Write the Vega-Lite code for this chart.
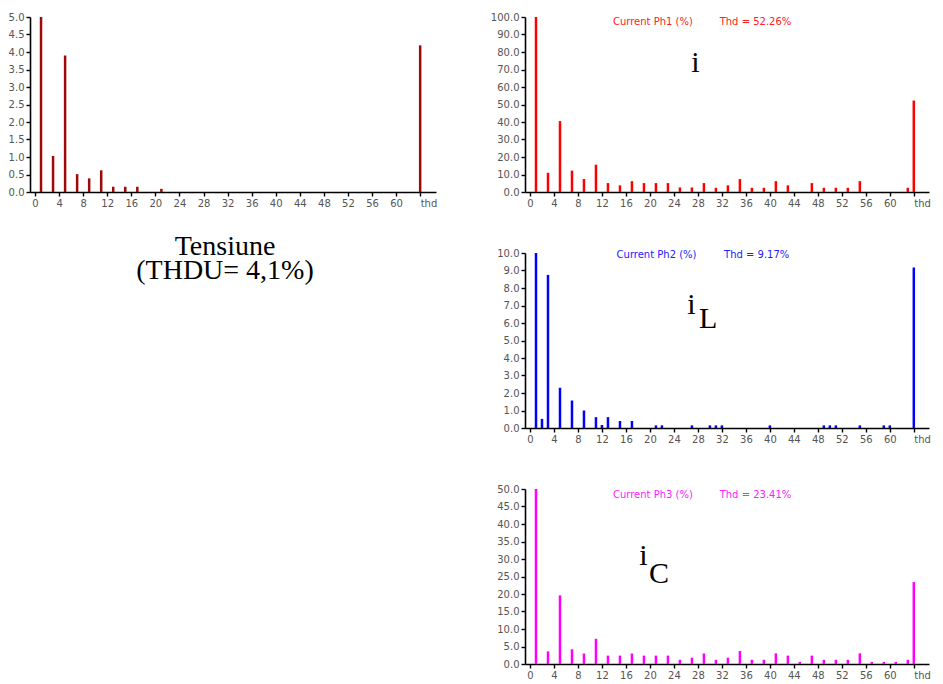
{
  "$schema": "https://vega.github.io/schema/vega-lite/v6.json",
  "background": "white",
  "padding": {"left": 8, "top": 12, "right": 2, "bottom": 2},
  "bounds": "flush",
  "columns": 2,
  "spacing": {"row": 61, "column": 89},
  "datasets": {
    "volt": [
      {"h": 1, "v": 100}, {"h": 3, "v": 1.03}, {"h": 5, "v": 3.9}, {"h": 7, "v": 0.51}, {"h": 9, "v": 0.39},
      {"h": 11, "v": 0.62}, {"h": 13, "v": 0.15}, {"h": 15, "v": 0.15}, {"h": 17, "v": 0.15}, {"h": 21, "v": 0.09},
      {"h": 64, "v": 4.19}
    ],
    "ph1": [
      {"h": 1, "v": 100}, {"h": 3, "v": 11}, {"h": 5, "v": 40.5}, {"h": 7, "v": 12.2}, {"h": 9, "v": 7.4},
      {"h": 11, "v": 15.6}, {"h": 13, "v": 5.1}, {"h": 15, "v": 3.8}, {"h": 17, "v": 6.2}, {"h": 19, "v": 5.1},
      {"h": 21, "v": 5.1}, {"h": 23, "v": 5.1}, {"h": 25, "v": 2.6}, {"h": 27, "v": 2.6}, {"h": 29, "v": 5.1},
      {"h": 31, "v": 2.4}, {"h": 33, "v": 3.8}, {"h": 35, "v": 7.4}, {"h": 37, "v": 2.4}, {"h": 39, "v": 2.4},
      {"h": 41, "v": 6.2}, {"h": 43, "v": 3.8}, {"h": 47, "v": 5.1}, {"h": 49, "v": 2.4}, {"h": 51, "v": 2.4},
      {"h": 53, "v": 2.4}, {"h": 55, "v": 6.2}, {"h": 63, "v": 2.4}, {"h": 64, "v": 52.26}
    ],
    "ph2": [
      {"h": 1, "v": 100}, {"h": 2, "v": 0.52}, {"h": 3, "v": 8.75}, {"h": 5, "v": 2.3}, {"h": 7, "v": 1.57},
      {"h": 9, "v": 1.0}, {"h": 11, "v": 0.62}, {"h": 12, "v": 0.17}, {"h": 13, "v": 0.62}, {"h": 15, "v": 0.4},
      {"h": 17, "v": 0.4}, {"h": 21, "v": 0.15}, {"h": 22, "v": 0.15}, {"h": 27, "v": 0.15}, {"h": 30, "v": 0.15},
      {"h": 31, "v": 0.15}, {"h": 32, "v": 0.15}, {"h": 40, "v": 0.15}, {"h": 49, "v": 0.15}, {"h": 50, "v": 0.15},
      {"h": 51, "v": 0.15}, {"h": 55, "v": 0.15}, {"h": 59, "v": 0.15}, {"h": 60, "v": 0.15}, {"h": 64, "v": 9.17}
    ],
    "ph3": [
      {"h": 1, "v": 100}, {"h": 3, "v": 3.6}, {"h": 5, "v": 19.6}, {"h": 7, "v": 4.2}, {"h": 9, "v": 3.0},
      {"h": 11, "v": 7.2}, {"h": 13, "v": 2.4}, {"h": 15, "v": 2.4}, {"h": 17, "v": 3.0}, {"h": 19, "v": 2.4},
      {"h": 21, "v": 2.4}, {"h": 23, "v": 2.4}, {"h": 25, "v": 1.2}, {"h": 27, "v": 1.8}, {"h": 29, "v": 3.0},
      {"h": 31, "v": 1.2}, {"h": 33, "v": 1.8}, {"h": 35, "v": 3.7}, {"h": 37, "v": 1.2}, {"h": 39, "v": 1.2},
      {"h": 41, "v": 3.05}, {"h": 43, "v": 2.4}, {"h": 45, "v": 0.6}, {"h": 47, "v": 2.4}, {"h": 49, "v": 1.2},
      {"h": 51, "v": 1.2}, {"h": 53, "v": 1.2}, {"h": 55, "v": 3.05}, {"h": 57, "v": 0.6}, {"h": 59, "v": 0.6},
      {"h": 61, "v": 0.6}, {"h": 63, "v": 1.2}, {"h": 64, "v": 23.41}
    ],
    "notes": [
      {"panel": "ph1", "kind": "head", "h": 20.5, "v": 97.4, "t": "Current Ph1 (%)"},
      {"panel": "ph1", "kind": "head", "h": 37.6, "v": 97.4, "t": "Thd = 52.26%"},
      {"panel": "ph1", "kind": "sym", "h": 27.6, "v": 68.3, "t": "i"},
      {"panel": "ph2", "kind": "head", "h": 21.1, "v": 9.89, "t": "Current Ph2 (%)"},
      {"panel": "ph2", "kind": "head", "h": 37.8, "v": 9.89, "t": "Thd = 9.17%"},
      {"panel": "ph2", "kind": "sym", "h": 26.9, "v": 6.53, "t": "i"},
      {"panel": "ph2", "kind": "sym", "h": 29.7, "v": 5.71, "t": "L"},
      {"panel": "ph3", "kind": "head", "h": 20.5, "v": 48.4, "t": "Current Ph3 (%)"},
      {"panel": "ph3", "kind": "head", "h": 37.6, "v": 48.4, "t": "Thd = 23.41%"},
      {"panel": "ph3", "kind": "sym", "h": 18.9, "v": 28.2, "t": "i"},
      {"panel": "ph3", "kind": "sym", "h": 21.5, "v": 23.1, "t": "C"}
    ],
    "caption": [
      {"line": 1, "t": "Tensiune"},
      {"line": 2, "t": "(THDU= 4,1%)"}
    ],
    "none": []
  },
  "concat": [
    {
      "width": 406,
      "height": 175,
      "data": {"name": "volt"},
      "mark": {"type": "bar", "size": 2.5, "color": "#9e0a0a", "clip": true},
      "encoding": {
        "x": {"field": "h", "type": "quantitative", "scale": {"domain": [0, 65.8], "nice": false},
          "axis": {"values": [0,4,8,12,16,20,24,28,32,36,40,44,48,52,56,60,64], "labelExpr": "datum.value == 64 ? 'thd' : datum.label", "labelAlign": {"expr": "datum.value == 64 ? 'left' : 'center'"}}},
        "y": {"field": "v", "type": "quantitative", "scale": {"domain": [0, 5], "nice": false},
          "axis": {"values": [0,0.5,1,1.5,2,2.5,3,3.5,4,4.5,5], "format": ".1f"}}
      }
    },
    {
      "width": 404,
      "height": 175,
      "encoding": {
        "x": {"field": "h", "type": "quantitative", "scale": {"domain": [0, 65.7], "nice": false},
          "axis": {"values": [0,4,8,12,16,20,24,28,32,36,40,44,48,52,56,60,64], "labelExpr": "datum.value == 64 ? 'thd' : datum.label", "labelAlign": {"expr": "datum.value == 64 ? 'left' : 'center'"}}},
        "y": {"field": "v", "type": "quantitative", "scale": {"domain": [0, 100], "nice": false},
          "axis": {"values": [0,10,20,30,40,50,60,70,80,90,100], "format": ".1f"}}
      },
      "layer": [
        {"data": {"name": "ph1"}, "mark": {"type": "bar", "size": 2.5, "color": "#ff0000", "clip": true}},
        {"data": {"name": "notes"}, "transform": [{"filter": "datum.panel == 'ph1' && datum.kind == 'head'"}],
          "mark": {"type": "text", "font": "DejaVu Sans", "fontSize": 10, "color": "#ff2020", "baseline": "middle"},
          "encoding": {"text": {"field": "t"}}},
        {"data": {"name": "notes"}, "transform": [{"filter": "datum.panel == 'ph1' && datum.kind == 'sym'"}],
          "mark": {"type": "text", "font": "Liberation Serif", "fontSize": 30, "color": "black", "baseline": "alphabetic"},
          "encoding": {"text": {"field": "t"}}}
      ]
    },
    {
      "width": 406,
      "height": 24,
      "data": {"name": "caption"},
      "mark": {"type": "text", "font": "Liberation Serif", "fontSize": 28, "baseline": "alphabetic", "dx": -8, "dy": 1.5, "color": "black"},
      "encoding": {
        "y": {"field": "line", "type": "ordinal", "axis": null, "sort": null, "scale": {"type": "point", "padding": 0}},
        "text": {"field": "t"}
      }
    },
    {
      "width": 404,
      "height": 175,
      "encoding": {
        "x": {"field": "h", "type": "quantitative", "scale": {"domain": [0, 65.7], "nice": false},
          "axis": {"values": [0,4,8,12,16,20,24,28,32,36,40,44,48,52,56,60,64], "labelExpr": "datum.value == 64 ? 'thd' : datum.label", "labelAlign": {"expr": "datum.value == 64 ? 'left' : 'center'"}}},
        "y": {"field": "v", "type": "quantitative", "scale": {"domain": [0, 10], "nice": false},
          "axis": {"values": [0,1,2,3,4,5,6,7,8,9,10], "format": ".1f"}}
      },
      "layer": [
        {"data": {"name": "ph2"}, "mark": {"type": "bar", "size": 2.5, "color": "#0000ff", "clip": true}},
        {"data": {"name": "notes"}, "transform": [{"filter": "datum.panel == 'ph2' && datum.kind == 'head'"}],
          "mark": {"type": "text", "font": "DejaVu Sans", "fontSize": 10, "color": "#2020ff", "baseline": "middle"},
          "encoding": {"text": {"field": "t"}}},
        {"data": {"name": "notes"}, "transform": [{"filter": "datum.panel == 'ph2' && datum.kind == 'sym'"}],
          "mark": {"type": "text", "font": "Liberation Serif", "fontSize": 30, "color": "black", "baseline": "alphabetic"},
          "encoding": {"text": {"field": "t"}}}
      ]
    },
    {
      "width": 406,
      "height": 175,
      "data": {"name": "none"},
      "mark": {"type": "text"},
      "encoding": {}
    },
    {
      "width": 404,
      "height": 175,
      "encoding": {
        "x": {"field": "h", "type": "quantitative", "scale": {"domain": [0, 65.7], "nice": false},
          "axis": {"values": [0,4,8,12,16,20,24,28,32,36,40,44,48,52,56,60,64], "labelExpr": "datum.value == 64 ? 'thd' : datum.label", "labelAlign": {"expr": "datum.value == 64 ? 'left' : 'center'"}}},
        "y": {"field": "v", "type": "quantitative", "scale": {"domain": [0, 50], "nice": false},
          "axis": {"values": [0,5,10,15,20,25,30,35,40,45,50], "format": ".1f"}}
      },
      "layer": [
        {"data": {"name": "ph3"}, "mark": {"type": "bar", "size": 2.5, "color": "#ff00ff", "clip": true}},
        {"data": {"name": "notes"}, "transform": [{"filter": "datum.panel == 'ph3' && datum.kind == 'head'"}],
          "mark": {"type": "text", "font": "DejaVu Sans", "fontSize": 10, "color": "#ff20ff", "baseline": "middle"},
          "encoding": {"text": {"field": "t"}}},
        {"data": {"name": "notes"}, "transform": [{"filter": "datum.panel == 'ph3' && datum.kind == 'sym'"}],
          "mark": {"type": "text", "font": "Liberation Serif", "fontSize": 30, "color": "black", "baseline": "alphabetic"},
          "encoding": {"text": {"field": "t"}}}
      ]
    }
  ],
  "config": {
    "view": {"stroke": null},
    "axis": {
      "grid": false,
      "title": null,
      "domainColor": "black",
      "domainWidth": 1.6,
      "tickColor": "black",
      "tickWidth": 1.4,
      "tickSize": 4,
      "labelPadding": 2,
      "labelFont": "DejaVu Sans",
      "labelFontSize": 10,
      "labelColor": "#555555",
      "labelOverlap": false,
      "labelBound": false,
      "labelFlush": false
    }
  }
}
